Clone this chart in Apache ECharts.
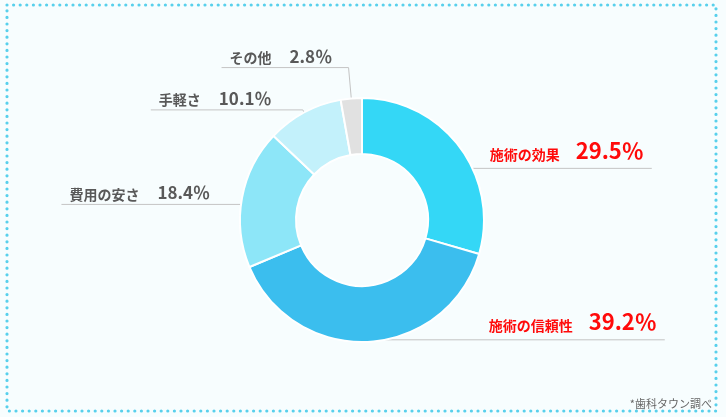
<!DOCTYPE html>
<html>
<head>
<meta charset="utf-8">
<script src="https://cdn.jsdelivr.net/npm/echarts@6/dist/echarts.min.js"></script>
<style>
html,body{margin:0;padding:0;background:#f7fdfe;}
#chart{width:726px;height:417px;}
</style>
</head>
<body>
<div id="chart"></div>
<script>
// ---- data ----
const categories = ['施術の効果', '施術の信頼性', '費用の安さ', '手軽さ', 'その他'];
const shares = [29.5, 39.2, 18.4, 10.1, 2.8];
const highlighted = [true, true, false, false, false];
const sliceColors = ['#34d7f6', '#3bbeee', '#8de6f8', '#c3f1fb', '#e1e1e1'];
const noteText = '*歯科タウン調べ';

// ---- leader line shape per label (length, length2) ----
const lineLen = [1, 35, 1, 40, 68];
const lineLen2 = [221, 296, 216, 152, 127];

const FONT = '"Noto Sans CJK JP", "Noto Sans", sans-serif';

const chart = echarts.init(document.getElementById('chart'), null, {renderer: 'canvas'});

const mainData = categories.map((c, i) => ({
  name: c, value: shares[i], itemStyle: {color: sliceColors[i]}
}));
const labelData = categories.map((c, i) => ({
  name: c, value: shares[i],
  labelLine: {length: lineLen[i], length2: lineLen2[i]},
  label: {width: highlighted[i] ? 175 : 160}
}));

const option = {
  backgroundColor: '#f7fdfe',
  animation: false,
  graphic: [
    {
      type: 'rect', z: 0,
      shape: {x: 7, y: 5, width: 709, height: 406},
      style: {fill: 'none', stroke: '#58d0ec', lineWidth: 3.2, lineDash: [0, 6.6], lineCap: 'round'}
    },
    {
      type: 'text', right: 14, bottom: 8,
      style: {text: noteText, fontSize: 11, fill: '#666', fontFamily: FONT}
    }
  ],
  series: [
    {
      type: 'pie',
      center: [362, 220],
      radius: [66, 122],
      startAngle: 90,
      clockwise: true,
      silent: true,
      label: {show: false},
      labelLine: {show: false},
      itemStyle: {borderColor: '#ffffff', borderWidth: 2},
      data: mainData
    },
    {
      type: 'pie',
      center: [362, 220],
      radius: [0, 85],
      startAngle: 90,
      clockwise: true,
      silent: true,
      avoidLabelOverlap: false,
      itemStyle: {color: 'rgba(0,0,0,0)', borderWidth: 0},
      label: {
        show: true,
        position: 'outside',
        distanceToLabelLine: -8,
        padding: [0, 0, 3, 0],
        fontFamily: FONT,
        formatter: (p) => {
          const i = p.dataIndex;
          return highlighted[i]
            ? '{hn|' + p.name + '}{hv|' + p.value.toFixed(1) + '％}'
            : '{n|' + p.name + '}{v|' + p.value.toFixed(1) + '％}';
        },
        rich: {
          hn: {fontFamily: FONT, fontSize: 14, fontWeight: 'bold', color: '#ff0a0a', align: 'right', padding: [0, 16, 4, 0], verticalAlign: 'bottom', lineHeight: 26},
          hv: {fontFamily: FONT, fontSize: 22, fontWeight: 'bold', color: '#ff0a0a', align: 'right', padding: [0, 0, 4, 0], verticalAlign: 'bottom', lineHeight: 26},
          n: {fontFamily: FONT, fontSize: 14, fontWeight: 'bold', color: '#595959', align: 'left', padding: [0, 18, 0, 0], verticalAlign: 'bottom', lineHeight: 22},
          v: {fontFamily: FONT, fontSize: 17, fontWeight: 'bold', color: '#595959', align: 'left', verticalAlign: 'bottom', lineHeight: 22}
        }
      },
      labelLine: {
        show: true,
        smooth: false,
        lineStyle: {color: '#c4c4c4', width: 1}
      },
      labelLayout: (params) => {
        const pts = params.labelLinePoints;
        const right = pts && pts[2][0] > pts[0][0];
        return {align: right ? 'right' : 'left', verticalAlign: 'bottom'};
      },
      data: labelData
    }
  ]
};
chart.setOption(option);
</script>
</body>
</html>
